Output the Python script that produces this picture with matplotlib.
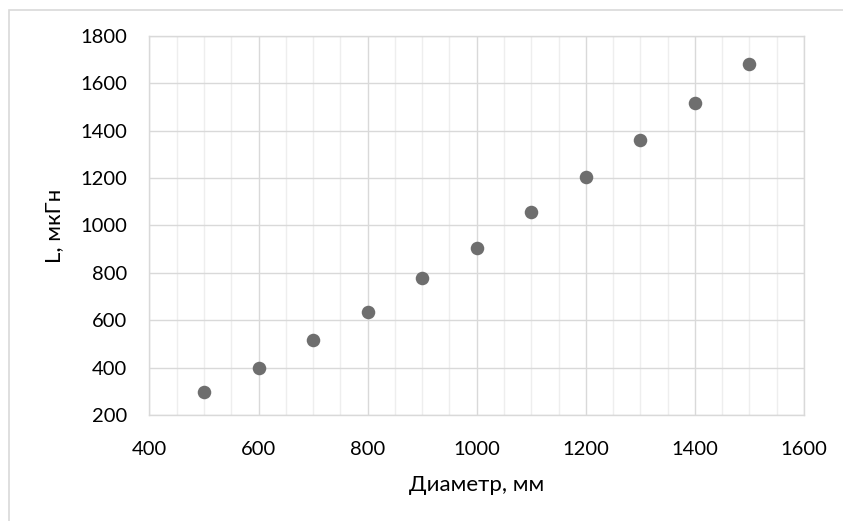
import matplotlib
matplotlib.use("Agg")
import matplotlib.pyplot as plt
from matplotlib.patches import Rectangle
from matplotlib.ticker import MultipleLocator

plt.rcParams['font.family'] = ['Lato', 'DejaVu Sans']

diameter = [500, 600, 700, 800, 900, 1000, 1100, 1200, 1300, 1400, 1500]
inductance = [295, 400, 515, 636, 778, 907, 1055, 1203, 1360, 1518, 1683]

fig = plt.figure(figsize=(8.43, 5.21), dpi=100)
ax = fig.add_axes([0.1773, 0.2035, 0.9537 - 0.1773, 0.9309 - 0.2035])

fig.patches.append(Rectangle((9 / 843, -0.1), 1.2, 1 - 10 / 521 + 0.1,
                             transform=fig.transFigure, fill=False,
                             edgecolor='#d9d9d9', linewidth=1.2))

ax.scatter(diameter, inductance, s=95, color='#6e6e6e', zorder=3, linewidths=0)

ax.set_xlim(400, 1600)
ax.set_ylim(200, 1800)
ax.xaxis.set_major_locator(MultipleLocator(200))
ax.xaxis.set_minor_locator(MultipleLocator(50))
ax.yaxis.set_major_locator(MultipleLocator(200))

ax.grid(which='major', color='#d9d9d9', linewidth=1.0, zorder=0)
ax.grid(which='minor', axis='x', color='#eeeeee', linewidth=1.0, zorder=0)
ax.set_axisbelow(True)
for s in ax.spines.values():
    s.set_color('#d9d9d9')
    s.set_linewidth(1.0)

ax.tick_params(which='both', length=0, labelsize=14.5, colors='#000000')
ax.tick_params(axis='x', pad=19)
ax.tick_params(axis='y', pad=16)

ax.set_xlabel('Диаметр, мм', fontsize=16, labelpad=12)
ax.set_ylabel('L, мкГн', fontsize=16, labelpad=12)

fig.savefig('out.png', dpi=100)
